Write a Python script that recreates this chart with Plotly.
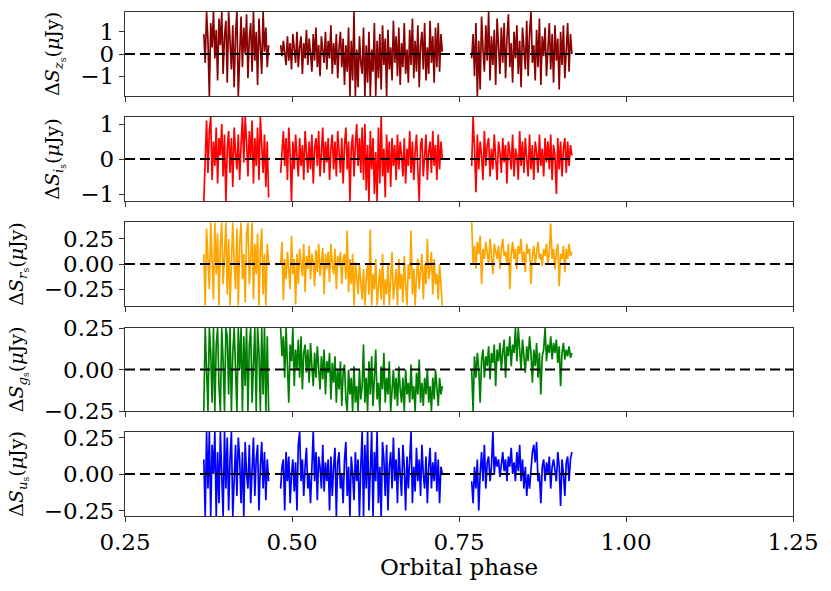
import numpy as np
import plotly.graph_objects as go

# ---------------- data ----------------
seg_phase = [(0.368, 0.465), (0.483, 0.725), (0.769, 0.919)]
x_ticks = [0.25, 0.50, 0.75, 1.00, 1.25]
x_title = "Orbital phase"

z_A = [0.9, -0.4, 1.9, 0.6, -1.9, 1.4, 0.3, 1.9, -0.2, 1.1, -1.2, 1.6, 0.4, 1.9, -0.9, 0.8, 1.5, -1.3, 1.9, 0.2, -0.7, 1.3, -1.5, 0.9, 1.9, -1.9, 0.5, 1.7, -0.6, 1.2, 0.0, 1.8, -1.1, 0.7, 1.4, -0.8, 1.9, -0.3, 1.0, -1.4, 1.6, 0.3, -0.9, 1.9, 0.1, 1.2, -0.6, 0.4]
z_B = [0.4, -0.1, 0.6, 0.1, -0.5, 0.8, -0.3, 0.5, -0.7, 0.9, 0.2, -0.4, 1.0, -0.6, 0.3, 0.8, -0.9, 0.5, -0.2, 1.1, -0.5, 0.7, 0.0, -0.8, 0.9, -0.3, 1.2, -0.6, 0.4, -1.0, 0.8, 0.1, -0.4, 1.0, -0.7, 0.6, -0.2, 1.3, -0.9, 0.5, -0.5, 0.9, -1.1, 0.3, 1.0, -0.6, 0.7, -1.4, 0.4, -0.8, 1.2, -1.9, 0.6, -1.2, 1.9, -1.9, 0.2, -1.5, 0.8, -0.4,
       -0.9, 1.2, -1.9, 0.4, -1.3, 1.0, -1.9, 0.2, -0.8, 1.4, -1.9, 0.6, -1.1, 0.9, -1.6, 1.3, -0.5, 0.7, -1.9, 1.1, -0.7, 0.3, -1.2, 1.5, -0.4, 0.8, -1.0, 1.2, -1.4, 0.5, -0.6, 1.4, -0.9, 0.2, -1.3, 1.1, -0.5, 1.6, -1.1, 0.6, -0.8, 1.3, -1.5, 0.4, 1.0, -0.7, 1.4, -1.2, 0.3, -0.9, 1.5, -0.4, 0.8, -1.3, 1.2, -0.6, 1.4, -0.8, 0.9, 0.1]
z_C = [-0.2, 0.9, -1.0, 1.4, -1.9, 0.6, -1.6, 1.7, 0.2, -0.8, 1.3, -0.3, 1.9, -1.2, 0.8, -0.5, 1.1, -1.4, 1.6, 0.1, -0.9, 1.2, -0.4, 1.4, -1.1, 0.7, 1.8, -0.6, 0.5, -1.3, 1.0, -0.2, 1.3, -0.9, 0.6, -1.5, 1.2, 0.3, -0.7, 1.5, -1.0, 0.9, 1.9, -0.4, 0.4, -1.2, 1.1, -0.6, 1.6, -1.4, 0.8, -0.1, 1.2, -1.0, 0.5, 1.4, -0.7, 0.9, -1.3, 1.3, -0.3, 0.7, -1.6, 1.0, -0.5, 1.3, -1.1, 0.6, 1.4, -0.8, 0.9, 0.0]

i_A = [-1.2, 0.2, 1.1, -0.4, 0.8, 1.2, -0.6, 0.5, -0.2, 0.9, -0.7, 0.6, 0.1, 1.0, -0.5, 0.7, -1.2, 0.3, 0.8, -0.4, 0.6, -0.8, 0.9, 0.2, -0.3, 0.7, -0.6, 0.4, 1.2, -0.1, 1.2, 0.5, -0.5, 0.8, 0.0, 1.1, -0.7, 0.6, -0.2, 0.9, -0.6, 1.2, 0.3, -0.4, 0.7, -0.8, 0.5, -1.1]
i_B = [-0.4, 0.3, 0.8, -0.2, 0.6, -0.6, 0.9, 0.1, -1.2, 0.5, -0.3, 0.7, 0.0, -0.5, 0.6, -0.2, 0.4, -0.6, 0.8, 0.1, -0.4, 0.5, -0.3, 0.7, -0.7, 0.3, 0.6, -0.2, 0.8, -0.5, 0.2, 0.9, -0.4, 0.5, -0.1, 0.6, -0.6, 0.3, 0.7, -0.3, 0.5, -0.5, 0.8, 0.0, -0.4, 0.6, -0.7, 0.4, 0.9, -0.3, 0.5, -1.2, 0.3, 0.7, -0.5, 0.4, 1.0, -0.2, 0.6, -0.4,
       0.9, -0.6, 1.0, -0.9, 0.4, -1.2, 0.8, -0.3, 0.6, -1.0, 0.2, -1.2, 0.9, -0.7, 1.2, -0.5, 0.3, -1.1, 0.7, -0.4, 0.5, -0.8, 0.6, -0.2, 0.4, -0.6, 0.7, -0.3, 0.5, 0.1, -0.5, 0.6, -0.7, 0.3, -0.2, 0.8, -0.4, 0.5, -0.6, 0.2, 0.7, -0.3, -1.2, 0.4, 0.6, -0.5, 0.3, 0.7, -0.6, 0.2, 0.5, -0.4, 0.8, -0.2, 0.4, -0.6, 0.7, -0.3, 0.5, 0.0]
i_C = [-0.2, 1.2, 0.3, -0.95, 0.7, -0.3, 0.5, 0.1, -0.6, 0.8, -0.2, 0.4, 0.6, -0.5, 0.3, -0.3, 0.7, 0.0, -0.6, 0.5, 0.2, -0.4, 0.6, -0.1, 0.4, -0.7, 0.5, 0.2, -0.3, 0.7, -0.5, 0.3, 0.1, -0.6, 0.8, -0.2, 0.5, -0.4, 0.6, 0.0, -0.5, 0.7, -0.3, 0.4, -0.6, 0.5, 0.2, -0.4, 0.7, -0.2, 0.3, -0.5, 0.6, -0.1, 0.5, -0.3, 0.7, -0.6, 0.4, 0.1, -1.0, 0.6, -0.3, 0.5, -0.5, 0.3, 0.6, -0.4, 0.5, -0.2, 0.4, 0.1]

r_A = [0.1, -0.41, 0.35, 0.0, -0.25, 0.41, 0.1, -0.35, 0.41, -0.1, 0.3, -0.41, 0.2, 0.41, -0.2, 0.05, 0.41, -0.3, 0.25, -0.41, 0.15, 0.41, 0.0, -0.25, 0.35, -0.41, 0.2, 0.41, -0.15, 0.1, -0.38, 0.3, 0.41, -0.2, 0.05, 0.41, -0.35, 0.2, -0.1, 0.3, -0.41, 0.15, 0.35, -0.3, 0.1, -0.41, 0.2, 0.0]
r_B = [0.0, 0.22, -0.36, 0.05, -0.15, 0.12, -0.05, -0.25, 0.28, -0.1, 0.05, -0.4, 0.1, -0.2, 0.15, 0.0, -0.12, 0.2, -0.28, 0.08, -0.05, 0.18, -0.15, 0.1, 0.02, -0.22, 0.14, -0.08, 0.2, -0.12, 0.05, 0.16, -0.3, 0.1, -0.05, 0.12, -0.18, 0.2, 0.0, -0.1, 0.15, -0.25, 0.08, -0.02, 0.12, -0.2, 0.05, 0.1, -0.15, 0.33, -0.28, 0.05, -0.2, 0.1, -0.41, 0.02, -0.12, -0.3, 0.0, -0.2,
       -0.35, -0.05, -0.41, -0.15, 0.0, -0.3, 0.34, -0.41, -0.1, -0.25, 0.05, -0.41, -0.2, -0.05, -0.35, 0.1, -0.41, -0.15, -0.3, 0.0, -0.41, -0.1, 0.12, -0.35, -0.2, -0.05, -0.41, 0.05, -0.25, -0.1, -0.38, 0.08, -0.2, -0.41, 0.0, -0.15, 0.33, -0.3, -0.05, -0.41, -0.12, 0.05, -0.25, -0.1, 0.1, -0.35, 0.0, -0.2, 0.25, -0.15, -0.05, 0.12, -0.3, 0.05, -0.2, -0.1, -0.35, 0.0, -0.25, -0.41]
r_C = [0.41, 0.0, 0.18, -0.05, 0.22, 0.1, 0.28, -0.2, 0.15, 0.05, 0.22, 0.12, 0.0, 0.25, 0.08, -0.1, 0.2, 0.1, 0.05, 0.18, -0.05, 0.15, 0.25, 0.08, 0.12, 0.0, 0.2, -0.25, 0.1, 0.22, 0.05, 0.15, -0.05, 0.18, 0.1, 0.25, 0.02, 0.12, -0.08, 0.2, 0.1, 0.15, -0.2, 0.08, 0.18, 0.0, 0.12, 0.22, 0.05, 0.1, -0.02, 0.15, 0.08, 0.2, 0.0, 0.12, 0.4, 0.05, 0.15, -0.05, 0.12, 0.2, -0.22, 0.1, 0.05, 0.18, -0.08, 0.15, 0.05, 0.2, 0.08, 0.12]

g_A = [-0.25, 0.25, 0.0, -0.25, 0.25, 0.1, -0.2, 0.25, -0.25, 0.15, 0.25, -0.1, -0.25, 0.25, 0.05, -0.25, 0.25, 0.2, -0.15, 0.25, -0.25, 0.1, 0.25, -0.05, -0.25, 0.25, 0.0, 0.25, -0.25, 0.2, -0.1, 0.25, -0.25, 0.15, 0.25, -0.2, 0.05, 0.25, -0.25, 0.25, 0.1, -0.25, 0.25, -0.15, 0.25, -0.25, 0.2, -0.25]
g_B = [0.25, 0.08, 0.2, -0.05, 0.25, 0.0, -0.2, 0.15, 0.05, 0.25, -0.1, 0.12, 0.0, 0.18, -0.05, 0.2, -0.12, 0.1, 0.15, -0.02, 0.12, -0.08, 0.16, 0.02, -0.1, 0.1, -0.05, 0.14, 0.0, -0.12, 0.08, -0.06, 0.12, -0.15, 0.05, -0.02, 0.1, -0.18, 0.04, -0.08, 0.08, -0.2, 0.0, -0.12, 0.05, -0.22, -0.02, 0.03, -0.18, -0.25, 0.0, -0.15, -0.05, -0.25, 0.02, -0.2, -0.1, -0.25, 0.0, -0.18,
       -0.1, 0.15, -0.2, -0.05, -0.25, 0.05, -0.15, 0.08, -0.22, -0.05, 0.12, -0.18, -0.08, -0.25, 0.02, -0.12, 0.1, -0.2, -0.05, -0.15, 0.05, -0.25, -0.1, 0.0, -0.18, -0.05, -0.22, 0.02, -0.12, -0.2, -0.05, -0.25, 0.0, -0.15, -0.08, -0.2, 0.03, -0.18, -0.1, -0.25, -0.02, -0.15, 0.06, -0.2, -0.08, -0.22, -0.05, -0.15, 0.0, -0.2, -0.1, -0.25, -0.05, -0.18, 0.0, -0.12, -0.22, -0.05, -0.15, -0.1]
g_C = [0.0, -0.25, 0.08, -0.05, 0.1, 0.0, -0.2, 0.06, 0.12, -0.05, 0.08, 0.02, 0.14, -0.06, 0.1, 0.04, 0.15, -0.1, 0.12, 0.05, 0.16, 0.0, 0.1, 0.18, -0.05, 0.14, 0.08, 0.2, 0.02, 0.15, 0.1, 0.25, 0.05, 0.25, 0.12, 0.0, 0.18, 0.08, -0.02, 0.14, 0.05, 0.2, 0.1, -0.08, 0.12, 0.02, 0.16, -0.05, 0.1, -0.15, 0.08, 0.12, 0.25, 0.05, 0.15, 0.1, 0.2, 0.06, 0.16, 0.1, 0.18, 0.04, 0.14, -0.1, 0.1, 0.16, 0.06, 0.12, 0.08, 0.14, 0.07, 0.1]

u_A = [0.1, -0.29, 0.29, -0.1, 0.29, -0.29, 0.2, 0.0, 0.29, -0.29, 0.15, -0.2, 0.29, 0.05, -0.29, 0.29, -0.1, 0.25, -0.25, 0.1, 0.29, -0.29, 0.0, 0.2, -0.15, 0.25, 0.1, -0.2, 0.15, -0.29, 0.22, 0.0, -0.1, 0.2, -0.2, 0.05, 0.25, -0.15, 0.1, 0.2, -0.25, 0.05, 0.22, -0.1, 0.15, -0.18, 0.1, -0.05]
u_B = [-0.1, 0.05, 0.1, -0.25, 0.15, -0.05, 0.12, -0.2, 0.0, 0.1, -0.12, 0.08, -0.25, 0.2, 0.29, -0.05, 0.1, -0.15, 0.05, 0.18, -0.1, 0.0, -0.2, 0.1, 0.29, -0.05, 0.15, -0.18, 0.12, 0.05, -0.1, 0.2, -0.12, 0.08, -0.05, 0.1, -0.25, 0.12, -0.15, 0.05, 0.18, -0.29, 0.08, 0.15, -0.1, 0.0, -0.2, 0.1, 0.22, -0.15, 0.05, -0.29, 0.12, 0.0, -0.18, 0.15, -0.05, 0.1, -0.29, 0.05,
       0.29, -0.29, 0.2, -0.1, 0.29, -0.25, 0.1, 0.29, -0.29, 0.15, -0.05, 0.29, -0.2, 0.05, -0.29, 0.22, 0.1, -0.15, 0.2, -0.25, 0.05, 0.15, -0.1, 0.25, -0.05, 0.1, -0.2, 0.18, 0.0, -0.15, 0.2, 0.05, -0.25, 0.12, -0.1, 0.15, 0.29, -0.2, 0.05, -0.12, 0.18, -0.05, 0.1, -0.15, 0.2, 0.0, -0.1, 0.12, -0.2, 0.05, 0.18, -0.1, 0.08, -0.05, 0.15, -0.12, 0.1, -0.2, 0.05, 0.0]
u_C = [-0.05, -0.2, 0.05, -0.1, 0.1, -0.25, 0.0, 0.15, -0.05, 0.2, -0.1, 0.08, 0.12, -0.05, 0.05, 0.29, 0.0, 0.12, 0.05, 0.1, -0.02, 0.08, 0.15, 0.02, 0.1, -0.05, 0.12, 0.05, 0.18, 0.0, 0.08, -0.05, 0.15, 0.02, 0.2, -0.05, 0.1, -0.1, 0.05, -0.15, 0.0, -0.1, 0.05, 0.15, 0.2, 0.08, 0.22, -0.05, 0.0, -0.2, 0.05, 0.1, -0.05, 0.08, 0.0, 0.12, -0.1, 0.05, 0.1, 0.0, -0.05, 0.15, 0.05, -0.22, 0.1, 0.0, -0.15, 0.08, 0.12, -0.05, 0.1, 0.15]

bands = ["z", "i", "r", "g", "u"]
band_data = {"z": [z_A, z_B, z_C], "i": [i_A, i_B, i_C], "r": [r_A, r_B, r_C],
             "g": [g_A, g_B, g_C], "u": [u_A, u_B, u_C]}
band_colors = {"z": "#8B0000", "i": "#FF0000", "r": "#FFA500", "g": "#008000", "u": "#0000FF"}
y_ranges = {"z": 1.9, "i": 1.2, "r": 0.415, "g": 0.25, "u": 0.288}
y_ticks = {"z": [-1, 0, 1], "i": [-1, 0, 1], "r": [-0.25, 0, 0.25],
           "g": [-0.25, 0, 0.25], "u": [-0.25, 0, 0.25]}
y_fmt = {"z": "{:.0f}", "i": "{:.0f}", "r": "{:.2f}", "g": "{:.2f}", "u": "{:.2f}"}


def fmt(v, f):
    s = f.format(abs(v))
    return ("\u2212" + s) if v < 0 else s


# ---------------- layout geometry (pixels) ----------------
W, H = 831, 591
mt, mb, ml, mr = 12, 75, 125, 38
panel_px = [(12, 96), (117, 201), (222, 306), (328, 411), (432, 516)]
plot_h = H - mt - mb

FONT = "DejaVu Serif"
fig = go.Figure()

for k, b in enumerate(bands):
    xs, ys = [], []
    for (p0, p1), seg in zip(seg_phase, band_data[b]):
        xs += list(np.linspace(p0, p1, len(seg))) + [None]
        ys += list(seg) + [None]
    ax = "" if k == 0 else str(k + 1)
    fig.add_trace(go.Scatter(x=xs, y=ys, mode="lines", line=dict(color=band_colors[b], width=1.7, shape="linear"),
                             xaxis="x" + ax, yaxis="y" + ax, showlegend=False, connectgaps=False))
    fig.add_trace(go.Scatter(x=[x_ticks[0], x_ticks[-1]], y=[0, 0], mode="lines",
                             line=dict(color="black", width=2.2, dash="10px,5px"),
                             xaxis="x" + ax, yaxis="y" + ax, showlegend=False))
    top, bot = panel_px[k]
    dom = [(H - mb - bot) / plot_h, (H - mb - top) / plot_h]
    last = (k == len(bands) - 1)
    xa = dict(domain=[0, 1], range=[0.25, 1.25], tickvals=x_ticks, ticktext=["%.2f" % v for v in x_ticks],
              automargin=False,
              showticklabels=last, ticks="outside", ticklen=5, tickwidth=1.3, tickcolor="#333",
              showline=True, linecolor="#333", linewidth=1.3, mirror=True, showgrid=False, zeroline=False,
              anchor="y" + ax, tickfont=dict(family=FONT, size=23, color="black"))
    lab = "Δ<i>S</i><sub><i>%s</i><sub>s</sub></sub>(<i>μ</i>Jy)" % b
    ya = dict(domain=dom, range=[-y_ranges[b], y_ranges[b]], tickvals=y_ticks[b],
              ticktext=[fmt(v, y_fmt[b]) for v in y_ticks[b]],
              automargin=False,
              ticks="outside", ticklen=5, tickwidth=1.3, tickcolor="#333",
              showline=True, linecolor="#333", linewidth=1.3, mirror=True, showgrid=False, zeroline=False,
              anchor="x" + ax, tickfont=dict(family=FONT, size=23, color="black"),
              title=dict(text=lab, font=dict(family=FONT, size=19, color="black")))
    fig.layout["xaxis" + ax] = xa
    fig.layout["yaxis" + ax] = ya

fig.add_annotation(text=x_title, xref="paper", yref="paper", x=0.5, y=-(567 - 516) / plot_h,
                   xanchor="center", yanchor="middle", showarrow=False,
                   font=dict(family=FONT, size=23, color="black"))

fig.update_layout(width=W, height=H, margin=dict(l=ml, r=mr, t=mt, b=mb, autoexpand=False),
                  plot_bgcolor="white", paper_bgcolor="white", font=dict(family=FONT, color="black"))
fig.write_html("out.html", config={"displayModeBar": False},
               post_script="document.body.style.margin='0';document.body.style.padding='0';")
